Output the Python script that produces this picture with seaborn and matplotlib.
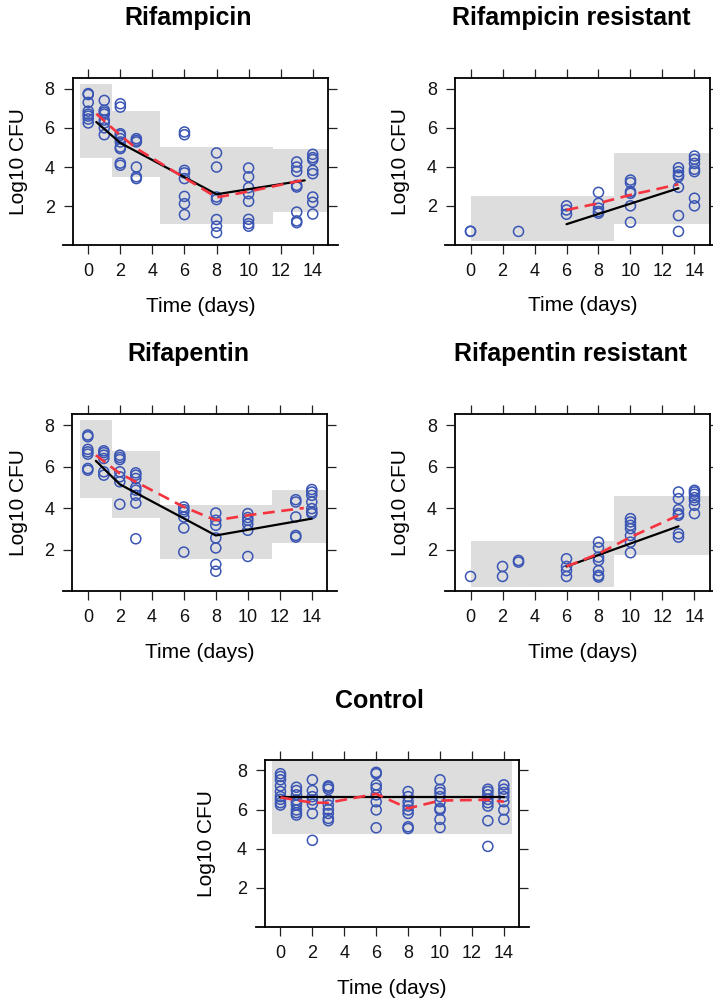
import matplotlib
matplotlib.use("Agg")
import matplotlib.pyplot as plt
import numpy as np
import pandas as pd
import seaborn as sns

sns.set_style("white")
plt.rcParams['font.family'] = ['Liberation Sans', 'DejaVu Sans']
plt.rcParams['text.color'] = 'black'
plt.rcParams['axes.labelcolor'] = 'black'

# ---------------- data ----------------
X_TICKS = [0, 2, 4, 6, 8, 10, 12, 14]
Y_TICKS = [2, 4, 6, 8]

# Rifampicin
rif_times = [0, 1, 2, 3, 6, 8, 10, 13, 14]
rif_obs = [
    [7.75, 7.7, 7.3, 6.85, 6.7, 6.6, 6.45, 6.25],
    [7.4, 6.9, 6.8, 6.7, 6.4, 6.25, 6.0, 5.65],
    [7.23, 7.06, 5.7, 5.62, 5.45, 5.28, 5.02, 4.94, 4.2, 4.09],
    [5.45, 5.36, 5.28, 4.0, 3.5, 3.41],
    [5.79, 5.65, 3.83, 3.7, 3.41, 2.5, 2.13, 1.57],
    [4.72, 4.0, 2.47, 2.34, 1.32, 0.98, 0.65],
    [3.95, 3.5, 2.95, 2.64, 2.25, 1.33, 1.11, 0.98],
    [4.26, 4.0, 3.78, 3.07, 2.98, 1.7, 1.25, 1.16],
    [4.65, 4.48, 4.38, 3.83, 3.66, 2.47, 2.2, 1.6],
]
rif_band_x0 = [-0.5, 1.5, 4.5, 11.5]
rif_band_x1 = [1.5, 4.5, 11.5, 15.5]
rif_band_lo = [4.46, 3.48, 1.1, 1.68]
rif_band_hi = [8.25, 6.86, 5.02, 4.9]
rif_pred_t = [0.5, 2, 8, 13.5]
rif_pred_y = [6.3, 5.23, 2.61, 3.32]
rif_med_t = [0.5, 2, 3, 8, 10, 13.5]
rif_med_y = [6.72, 5.62, 4.95, 2.45, 2.75, 3.35]

# Rifampicin resistant
rifr_times = [0, 3, 6, 8, 10, 13, 14]
rifr_obs = [
    [0.69, 0.7],
    [0.69],
    [2.0, 1.79, 1.57],
    [2.69, 2.13, 1.88, 1.71, 1.62],
    [3.32, 3.19, 2.73, 2.64, 2.0, 1.16],
    [3.95, 3.75, 3.58, 3.49, 2.95, 1.5, 0.69],
    [4.55, 4.38, 4.17, 3.87, 3.75, 2.39, 2.0],
]
rifr_band_x0 = [0.0, 9.0]
rifr_band_x1 = [9.0, 15.5]
rifr_band_lo = [0.18, 1.08]
rifr_band_hi = [2.51, 4.68]
rifr_pred_t = [6, 13]
rifr_pred_y = [1.06, 2.9]
rifr_med_t = [6, 8, 10, 13]
rifr_med_y = [1.79, 2.13, 2.56, 3.1]

# Rifapentin
rpt_times = [0, 1, 2, 3, 6, 8, 10, 13, 14]
rpt_obs = [
    [7.52, 7.44, 6.83, 6.71, 6.6, 5.91, 5.83],
    [6.76, 6.67, 6.55, 6.39, 5.75, 5.59],
    [6.55, 6.44, 6.34, 5.75, 5.51, 5.27, 4.19],
    [5.7, 5.59, 5.43, 5.0, 4.87, 4.62, 4.25, 2.53],
    [4.06, 3.93, 3.82, 3.58, 3.05, 1.89],
    [3.77, 3.42, 3.18, 2.57, 2.09, 1.3, 0.97],
    [3.74, 3.55, 3.42, 3.23, 2.94, 1.68],
    [4.41, 4.3, 3.58, 2.69, 2.61],
    [4.9, 4.78, 4.62, 4.3, 3.98, 3.82, 3.74],
]
rpt_band_x0 = [-0.5, 1.5, 4.5, 11.5]
rpt_band_x1 = [1.5, 4.5, 11.5, 15.5]
rpt_band_lo = [4.5, 3.55, 1.54, 2.34]
rpt_band_hi = [8.24, 6.75, 4.17, 4.86]
rpt_pred_t = [0.5, 2, 8, 14]
rpt_pred_y = [6.28, 5.15, 2.69, 3.5]
rpt_med_t = [0.5, 2, 3, 6, 8, 10, 13.5]
rpt_med_y = [6.55, 5.67, 5.27, 4.06, 3.42, 3.66, 4.01]

# Rifapentin resistant
rptr_times = [0, 2, 3, 6, 8, 10, 13, 14]
rptr_obs = [
    [0.72],
    [1.2, 0.72],
    [1.49, 1.41],
    [1.57, 1.2, 1.0, 0.72],
    [2.37, 2.1, 1.65, 1.49, 1.0, 0.77, 0.69],
    [3.5, 3.34, 3.18, 3.02, 2.69, 2.37, 1.86],
    [4.78, 4.46, 3.93, 3.74, 3.66, 2.77, 2.61],
    [4.86, 4.78, 4.67, 4.51, 4.38, 4.14, 3.74],
]
rptr_band_x0 = [0.0, 9.0]
rptr_band_x1 = [9.0, 15.5]
rptr_band_lo = [0.2, 1.76]
rptr_band_hi = [2.42, 4.61]
rptr_pred_t = [6, 13]
rptr_pred_y = [1.2, 3.13]
rptr_med_t = [6, 8, 10, 13]
rptr_med_y = [1.2, 1.81, 2.61, 3.66]

# Control
ctl_times = [0, 1, 2, 3, 6, 8, 10, 13, 14]
ctl_obs = [
    [7.83, 7.69, 7.52, 7.21, 6.92, 6.66, 6.52, 6.35, 6.23],
    [7.14, 6.97, 6.75, 6.49, 6.35, 6.23, 5.98, 5.84, 5.72],
    [7.52, 6.97, 6.66, 6.49, 6.28, 5.8, 4.43],
    [7.21, 7.14, 7.04, 6.49, 6.23, 6.0, 5.8, 5.55, 5.43],
    [7.9, 7.83, 7.26, 7.09, 6.75, 6.4, 5.98, 5.07],
    [6.92, 6.66, 6.4, 6.18, 5.98, 5.8, 5.12, 5.03],
    [7.52, 7.04, 6.87, 6.66, 6.4, 6.06, 5.98, 5.5, 5.08],
    [7.04, 6.92, 6.75, 6.52, 6.35, 6.18, 5.43, 4.12],
    [7.26, 7.04, 6.87, 6.66, 6.4, 5.98, 5.5],
]
ctl_band_x0 = [-0.5]
ctl_band_x1 = [14.5]
ctl_band_lo = [4.77]
ctl_band_hi = [8.46]
ctl_pred_t = [0, 14]
ctl_pred_y = [6.62, 6.62]
ctl_med_t = [0, 2, 3, 6, 8, 10, 13, 14]
ctl_med_y = [6.62, 6.35, 6.35, 6.8, 6.06, 6.46, 6.5, 6.4]

# ---------------- style ----------------
W, H = 713, 1001
BLUE = "#3A55B4"
RED = "#F5333F"
GREY = "#DCDDDC"
XLIM = (-0.97, 14.97)
YLIM = (0.02, 8.53)

fig = plt.figure(figsize=(W / 100, H / 100), dpi=100)


def px_rect(left, top, right, bottom):
    return [left / W, 1 - bottom / H, (right - left) / W, (bottom - top) / H]


def panel(rect, title, title_xy, times, obs, bx0, bx1, blo, bhi,
          pt, py, mt, my, ylab_x, xlab_y):
    ax = fig.add_axes(rect)
    for a, b, lo, hi in zip(bx0, bx1, blo, bhi):
        ax.fill_between([a, b], [lo, lo], [hi, hi], color=GREY, lw=0, zorder=1)
    df = pd.DataFrame({
        "Time": [t for t, vals in zip(times, obs) for _ in vals],
        "CFU": [v for vals in obs for v in vals],
    })
    sns.scatterplot(data=df, x="Time", y="CFU", ax=ax, marker="o", s=52,
                    color=BLUE, facecolor="none", edgecolor=BLUE,
                    linewidth=1.1, zorder=3)
    sns.lineplot(x=pt, y=py, ax=ax, color="black", lw=1.6,
                 errorbar=None, sort=False, zorder=4)
    sns.lineplot(x=mt, y=my, ax=ax, color=RED, lw=1.9,
                 errorbar=None, sort=False, zorder=5,
                 linestyle=(0, (4.5, 2.5)))
    ax.set_xlim(*XLIM)
    ax.set_ylim(*YLIM)
    ax.set_xticks(X_TICKS)
    ax.set_yticks(Y_TICKS)
    ax.tick_params(direction="out", length=6.5, width=0.9, color="#222222",
                   top=True, right=True, bottom=True, left=True,
                   labeltop=False, labelright=False, labelsize=13, pad=6.5,
                   labelcolor="#111111")
    for s in ax.spines.values():
        s.set_visible(True)
        s.set_color("black")
        s.set_linewidth(1.3)
    ext = (XLIM[1] - XLIM[0]) * 9.5 / (rect[2] * W)
    ax.spines["bottom"].set_bounds(XLIM[0] - ext, XLIM[1] + ext)
    ax.set_xlabel("Time (days)", fontsize=15, va="center", color="black")
    ax.xaxis.set_label_coords(0.5, xlab_y)
    ax.set_ylabel("Log10 CFU", fontsize=15, va="center", color="black")
    ax.yaxis.set_label_coords(ylab_x, 0.5)
    fig.text(title_xy[0] / W, 1 - title_xy[1] / H, title, fontsize=18,
             fontweight="bold", ha="center", va="center", color="black")
    ax.legend_ = None
    return ax


panel(px_rect(72.7, 78.3, 328.3, 245), "Rifampicin", (188, 18),
      rif_times, rif_obs, rif_band_x0, rif_band_x1, rif_band_lo, rif_band_hi,
      rif_pred_t, rif_pred_y, rif_med_t, rif_med_y, -0.211, -0.37)
panel(px_rect(455, 78.3, 710, 244.5), "Rifampicin resistant", (571, 18),
      rifr_times, rifr_obs, rifr_band_x0, rifr_band_x1, rifr_band_lo, rifr_band_hi,
      rifr_pred_t, rifr_pred_y, rifr_med_t, rifr_med_y, -0.213, -0.37)
panel(px_rect(72.3, 414, 327.3, 591), "Rifapentin", (188, 354),
      rpt_times, rpt_obs, rpt_band_x0, rpt_band_x1, rpt_band_lo, rpt_band_hi,
      rpt_pred_t, rpt_pred_y, rpt_med_t, rpt_med_y, -0.211, -0.345)
panel(px_rect(455, 414, 710, 591), "Rifapentin resistant", (571, 354),
      rptr_times, rptr_obs, rptr_band_x0, rptr_band_x1, rptr_band_lo, rptr_band_hi,
      rptr_pred_t, rptr_pred_y, rptr_med_t, rptr_med_y, -0.213, -0.345)
panel(px_rect(265, 760, 519.3, 926.7), "Control", (379, 701),
      ctl_times, ctl_obs, ctl_band_x0, ctl_band_x1, ctl_band_lo, ctl_band_hi,
      ctl_pred_t, ctl_pred_y, ctl_med_t, ctl_med_y, -0.23, -0.368)

fig.savefig("out.png", dpi=100)
